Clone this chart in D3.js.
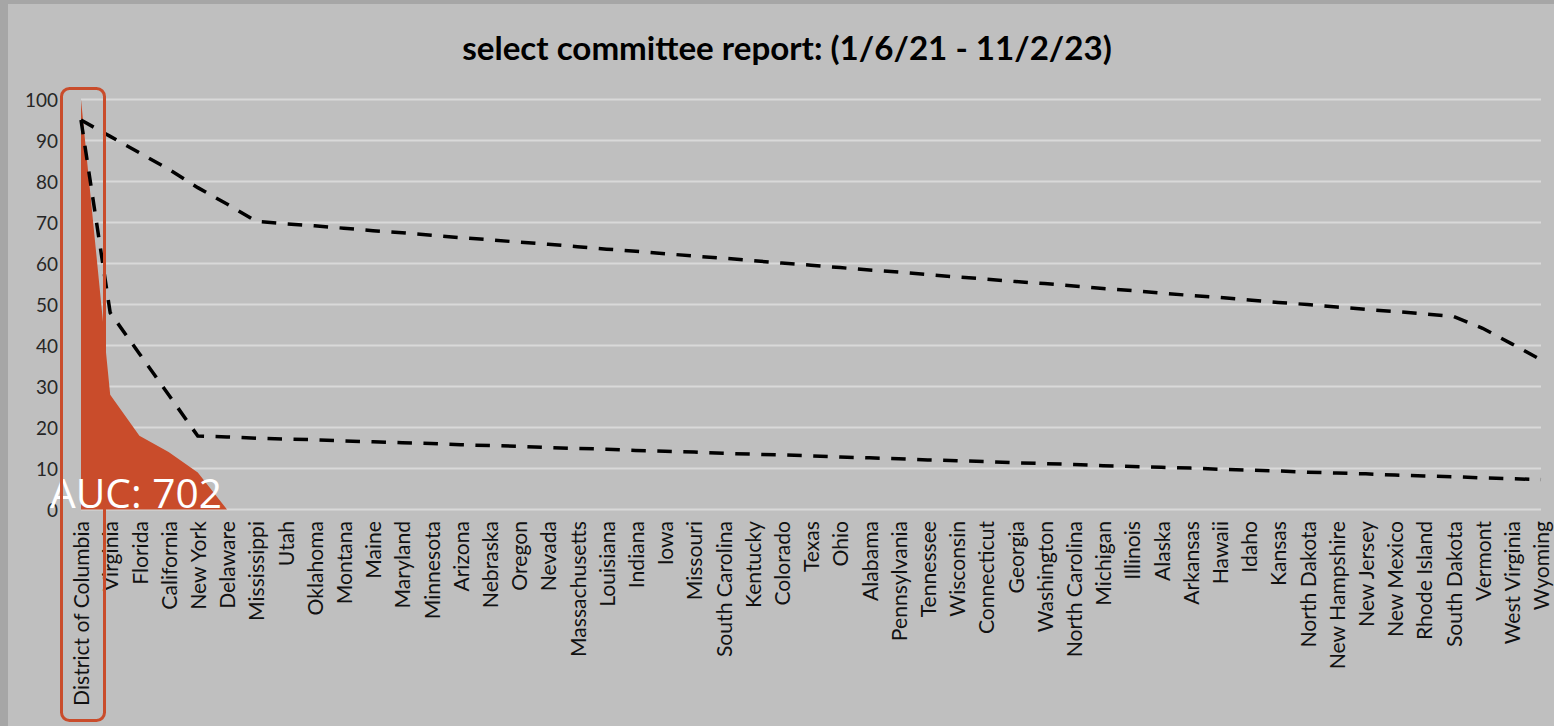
<!DOCTYPE html>
<html>
<head>
<meta charset="utf-8">
<script src="https://cdn.jsdelivr.net/npm/d3@7"></script>
<style>
  html, body { margin: 0; padding: 0; background: #a6a6a6; overflow: hidden; }
  svg { display: block; }
</style>
</head>
<body>
<script>
// ---------- DATA ----------
const titleText = "select committee report: (1/6/21 - 11/2/23)";
const aucText = "AUC: 702";
const states = ["District of Columbia","Virginia","Florida","California","New York","Delaware","Mississippi","Utah","Oklahoma","Montana","Maine","Maryland","Minnesota","Arizona","Nebraska","Oregon","Nevada","Massachusetts","Louisiana","Indiana","Iowa","Missouri","South Carolina","Kentucky","Colorado","Texas","Ohio","Alabama","Pennsylvania","Tennessee","Wisconsin","Connecticut","Georgia","Washington","North Carolina","Michigan","Illinois","Alaska","Arkansas","Hawaii","Idaho","Kansas","North Dakota","New Hampshire","New Jersey","New Mexico","Rhode Island","South Dakota","Vermont","West Virginia","Wyoming"];
const areaValues = [100,28,18,14,9,0,0,0,0,0,0,0,0,0,0,0,0,0,0,0,0,0,0,0,0,0,0,0,0,0,0,0,0,0,0,0,0,0,0,0,0,0,0,0,0,0,0,0,0,0,0];
const upperValues = [95,91,87,83,78.5,74.5,70.3,69.7,69.2,68.6,68.0,67.5,66.9,66.3,65.8,65.2,64.7,64.1,63.5,63.0,62.4,61.8,61.3,60.7,60.1,59.6,59.0,58.4,57.9,57.3,56.7,56.2,55.6,55.1,54.5,53.9,53.4,52.8,52.2,51.7,51.1,50.5,50.0,49.4,48.8,48.3,47.7,47.1,44.2,40.4,36.5];
const lowerValues = [95,48,38,28,17.9,17.7,17.4,17.2,17.0,16.7,16.5,16.3,16.1,15.8,15.6,15.4,15.1,14.9,14.7,14.4,14.2,14.0,13.7,13.5,13.3,13.1,12.8,12.6,12.4,12.1,11.9,11.7,11.4,11.2,11.0,10.7,10.5,10.3,10.1,9.8,9.6,9.4,9.1,8.9,8.7,8.4,8.2,8.0,7.7,7.5,7.3];
const yTicks = [0,10,20,30,40,50,60,70,80,90,100];
const highlighted = "District of Columbia";

// ---------- LAYOUT ----------
const W = 1554, H = 726;
const svg = d3.select("body").append("svg").attr("width", W).attr("height", H);

// outer frame
svg.append("rect").attr("x", 0).attr("y", 0).attr("width", W).attr("height", H).attr("fill", "#a6a6a6");
svg.append("rect").attr("x", 8).attr("y", 4).attr("width", W - 8).attr("height", H - 4).attr("fill", "#bfbfbf");

const x = d3.scalePoint().domain(states).range([81, 1541]);
const y = d3.scaleLinear().domain([0, 100]).range([509.5, 99.5]);

function fitFont(sel, target) {
  const n = sel.node();
  const fs = parseFloat(sel.attr("font-size"));
  const w = n.getComputedTextLength();
  if (w > 0) sel.attr("font-size", (fs * target / w).toFixed(2));
}

// gridlines
const grid = svg.append("g");
grid.selectAll("line").data(yTicks).join("line")
  .attr("x1", x.range()[0]).attr("x2", x.range()[1])
  .attr("y1", d => y(d)).attr("y2", d => y(d))
  .attr("stroke", "#d9d9d9").attr("stroke-width", 2);

// y axis labels
const yAxis = svg.append("g").attr("transform", "translate(58,0)")
  .call(d3.axisLeft(y).tickValues(yTicks).tickSize(0).tickPadding(0).tickFormat(d3.format("d")));
yAxis.select(".domain").remove();
yAxis.selectAll("text")
  .attr("font-family", "Lato, 'Open Sans', sans-serif")
  .attr("font-size", 17.5)
  .attr("fill", "#262626")
  .attr("dy", "0.36em");
(function () {
  const t = yAxis.selectAll("text").filter(d => d === 100);
  const w = t.node().getComputedTextLength();
  const fs = 17.5 * 33 / w;
  yAxis.selectAll("text").attr("font-size", fs.toFixed(2));
})();

// x axis labels (rotated)
const xAxis = svg.append("g").attr("transform", "translate(0,521)")
  .call(d3.axisBottom(x).tickSize(0).tickPadding(0));
xAxis.select(".domain").remove();
xAxis.selectAll("text")
  .attr("font-family", "Lato, 'Open Sans', sans-serif")
  .attr("font-size", 17.5)
  .attr("fill", "#111")
  .attr("text-anchor", "end")
  .attr("transform", "rotate(-90)")
  .attr("x", 0)
  .attr("y", 0)
  .attr("dy", "0.36em");
(function () {
  const t = xAxis.selectAll("text").filter(d => d === highlighted);
  const w = t.node().getComputedTextLength();
  const fs = 17.5 * 185 / w;
  xAxis.selectAll("text").attr("font-size", fs.toFixed(2));
})();

// area
const area = d3.area()
  .x((d, i) => x(states[i]))
  .y0(y(0))
  .y1(d => y(d));
svg.append("path").datum(areaValues)
  .attr("d", area)
  .attr("fill", "#c94c2b");

// dashed lines
const line = d3.line().x((d, i) => x(states[i])).y(d => y(d));
[upperValues, lowerValues].forEach(vals => {
  svg.append("path").datum(vals)
    .attr("d", line)
    .attr("fill", "none")
    .attr("stroke", "#000")
    .attr("stroke-width", 3.5)
    .attr("stroke-dasharray", "14.5,11.5")
    .attr("stroke-linejoin", "miter");
});

// AUC label
const auc = svg.append("text")
  .attr("x", 50).attr("y", 508)
  .attr("font-family", "'Open Sans', sans-serif")
  .attr("font-size", 39)
  .attr("fill", "#ffffff")
  .text(aucText);
fitFont(auc, 172);

// title
const title = svg.append("text")
  .attr("x", 787).attr("y", 60)
  .attr("text-anchor", "middle")
  .attr("font-family", "Lato, 'Open Sans', sans-serif")
  .attr("font-weight", "bold")
  .attr("font-size", 26)
  .attr("fill", "#000")
  .text(titleText);
fitFont(title, 650);

// highlight box
svg.append("rect")
  .attr("x", x(highlighted) - 19.5).attr("y", 88.5)
  .attr("width", 43).attr("height", 632)
  .attr("rx", 8).attr("ry", 8)
  .attr("fill", "none")
  .attr("stroke", "#c94c2b")
  .attr("stroke-width", 3);
</script>
</body>
</html>
